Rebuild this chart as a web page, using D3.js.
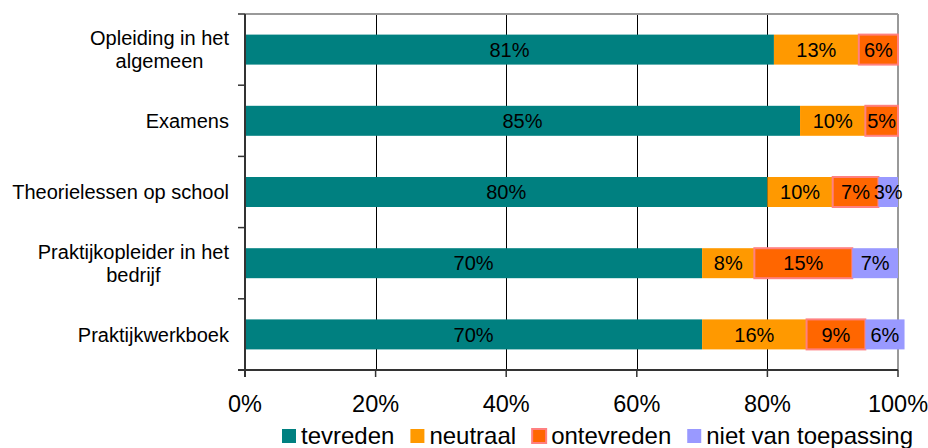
<!DOCTYPE html>
<html>
<head>
<meta charset="utf-8">
<script src="https://cdn.jsdelivr.net/npm/d3@7"></script>
<style>
  html, body { margin: 0; padding: 0; background: #fff; }
  svg { display: block; font-family: "Liberation Sans", Arial, sans-serif; }
</style>
</head>
<body>
<svg id="chart" width="928" height="448"></svg>
<script>
const categories = [
  ["Opleiding in het", "algemeen"],
  ["Examens"],
  ["Theorielessen op school"],
  ["Praktijkopleider in het", "bedrijf"],
  ["Praktijkwerkboek"]
];
const seriesNames = ["tevreden", "neutraal", "ontevreden", "niet van toepassing"];
const tevreden   = [81, 85, 80, 70, 70];
const neutraal   = [13, 10, 10, 8, 16];
const ontevreden = [6, 5, 7, 15, 9];
const nietVanToepassing = [0, 0, 3, 7, 6];
const xTicks = [0, 20, 40, 60, 80, 100];

(function () {
const seriesValues = [tevreden, neutraal, ontevreden, nietVanToepassing];
const fills = ["#008080", "#FF9900", "#FF6600", "#9999FF"];
const strokes = [null, null, "#FF8080", null];

const svg = d3.select("#chart");
const pL = 245, pR = 898, pT = 14, pB = 370;

const x = d3.scaleLinear().domain([0, 100]).range([pL, pR]);
const y = d3.scaleBand().domain(d3.range(categories.length)).range([pT, pB]).paddingInner(0).paddingOuter(0);
const barH = 30;

// gridlines
svg.append("g").selectAll("line").data(xTicks.filter(t => t > 0 && t < 100)).join("line")
  .attr("x1", d => Math.round(x(d)) + 0.5).attr("x2", d => Math.round(x(d)) + 0.5)
  .attr("y1", pT).attr("y2", pB)
  .attr("stroke", "#000").attr("stroke-width", 1);

// plot border (top/right)
svg.append("line").attr("x1", pL).attr("x2", pR).attr("y1", pT).attr("y2", pT)
  .attr("stroke", "#999").attr("stroke-width", 2);
svg.append("line").attr("x1", pR).attr("x2", pR).attr("y1", pT).attr("y2", pB)
  .attr("stroke", "#999").attr("stroke-width", 2);

// stacked data
const stackData = categories.map((c, i) => {
  let cum = 0;
  return seriesValues.map((s, k) => {
    const v = s[i];
    const seg = { cat: i, k, v, x0: cum, x1: cum + v };
    cum += v;
    return seg;
  });
});

const gBars = svg.append("g");
stackData.forEach((segs, i) => {
  const yc = y(i) + y.bandwidth() / 2;
  segs.filter(s => s.v > 0).forEach(s => {
    gBars.append("rect")
      .attr("x", x(s.x0)).attr("y", yc - barH / 2)
      .attr("width", x(s.x1) - x(s.x0)).attr("height", barH)
      .attr("fill", fills[s.k])
      .attr("stroke", strokes[s.k] || "none")
      .attr("stroke-width", strokes[s.k] ? 2 : 0);
  });
  segs.filter(s => s.v > 0).forEach(s => {
    gBars.append("text")
      .attr("x", (x(s.x0) + x(s.x1)) / 2).attr("y", yc)
      .attr("dy", "0.36em")
      .attr("text-anchor", "middle")
      .attr("font-size", 20)
      .attr("fill", "#000")
      .text(s.v + "%");
  });
});

// left axis
svg.append("line").attr("x1", pL).attr("x2", pL).attr("y1", pT).attr("y2", pB + 7)
  .attr("stroke", "#333").attr("stroke-width", 2);
svg.append("g").selectAll("line").data(d3.range(categories.length + 1)).join("line")
  .attr("x1", pL - 7).attr("x2", pL)
  .attr("y1", d => pT + d * y.step()).attr("y2", d => pT + d * y.step())
  .attr("stroke", "#333").attr("stroke-width", 1.5);

// bottom axis
svg.append("line").attr("x1", pL - 7).attr("x2", pR).attr("y1", pB).attr("y2", pB)
  .attr("stroke", "#333").attr("stroke-width", 2);
svg.append("g").selectAll("line").data(xTicks).join("line")
  .attr("x1", d => x(d)).attr("x2", d => x(d))
  .attr("y1", pB).attr("y2", pB + 7)
  .attr("stroke", "#333").attr("stroke-width", 1.5);
svg.append("g").selectAll("text").data(xTicks).join("text")
  .attr("x", d => x(d)).attr("y", 412)
  .attr("text-anchor", "middle")
  .attr("font-size", 23.5)
  .attr("fill", "#000")
  .text(d => d + "%");

// category labels: block right-aligned, lines centered within block
const gCat = svg.append("g");
const labelRight = 229;
categories.forEach((lines, i) => {
  const yc = y(i) + y.bandwidth() / 2;
  const lh = 23;
  const t = gCat.append("text")
    .attr("text-anchor", "middle")
    .attr("font-size", 20)
    .attr("fill", "#000");
  const spans = lines.map((ln, j) => t.append("tspan")
      .attr("y", yc + (j - (lines.length - 1) / 2) * lh)
      .attr("dy", "0.36em")
      .text(ln));
  const maxW = d3.max(spans, s => s.node().getComputedTextLength());
  spans.forEach(s => s.attr("x", labelRight - maxW / 2));
});

// legend
const gLeg = svg.append("g");
let lx = 282;
const legY = 435;
seriesNames.forEach((name, k) => {
  gLeg.append("rect")
    .attr("x", lx).attr("y", legY - 6).attr("width", 14).attr("height", 14)
    .attr("fill", fills[k])
    .attr("stroke", strokes[k] || "none")
    .attr("stroke-width", strokes[k] ? 2 : 0);
  const t = gLeg.append("text")
    .attr("x", lx + 19).attr("y", legY).attr("dy", "0.36em")
    .attr("font-size", 24)
    .attr("fill", "#000")
    .text(name);
  const w = t.node().getComputedTextLength();
  lx += 19 + w + 16;
});
})();
</script>
</body>
</html>
